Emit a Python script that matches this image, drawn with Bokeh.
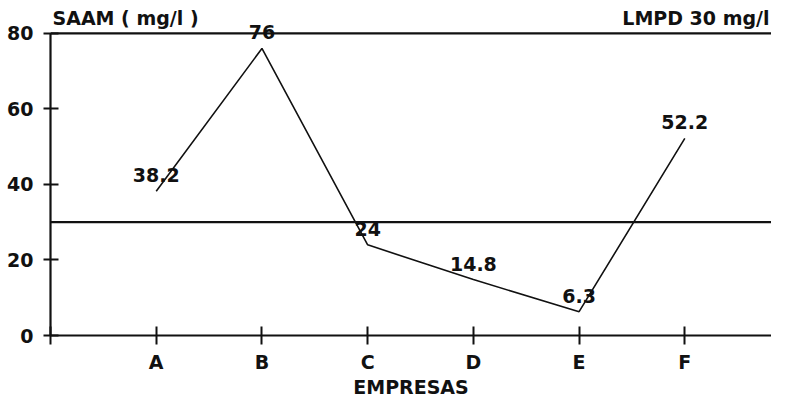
from bokeh.plotting import figure
from bokeh.models import Range1d, FixedTicker, Span, Label, ColumnDataSource
from bokeh.embed import file_html
from bokeh.resources import INLINE
from bokeh.core.properties import value

# ---- data ----
empresas = ["A", "B", "C", "D", "E", "F"]
posiciones = [1, 2, 3, 4, 5, 6]
saam = [38.2, 76, 24, 14.8, 6.3, 52.2]
etiquetas = ["38.2", "76", "24", "14.8", "6.3", "52.2"]
lmpd = 30
y_ticks = [0, 20, 40, 60, 80]
y_max = 80
titulo_y = "SAAM ( mg/l )"
titulo_lmpd = "LMPD 30 mg/l"
titulo_x = "EMPRESAS"

FONT = "DejaVu Sans"
INK = "#111111"
X_END = 6.82
Y_TOP = 88.7

p = figure(width=771, height=400, output_backend="svg", toolbar_location=None,
           x_range=Range1d(0, X_END), y_range=Range1d(0, Y_TOP),
           min_border=0, min_border_left=50, min_border_right=0,
           min_border_top=0, min_border_bottom=0)
p.outline_line_color = None
p.grid.visible = False
p.background_fill_color = "white"
p.border_fill_color = "white"

source = ColumnDataSource(dict(x=posiciones, y=saam, label=etiquetas))
p.line("x", "y", source=source, line_color=INK, line_width=1.6)
p.text("x", "y", text="label", source=source, text_font=value(FONT),
       text_font_style="bold", text_font_size="19px", text_align="center",
       text_baseline="middle", y_offset=-16, text_color=INK)

p.add_layout(Span(location=y_max, dimension="width", line_color=INK, line_width=2.2))
p.add_layout(Span(location=lmpd, dimension="width", line_color=INK, line_width=2.2))

p.add_layout(Label(x=0, y=y_max, x_offset=2, y_offset=15, text=titulo_y,
                   text_font=FONT, text_font_style="bold", text_font_size="19px",
                   text_baseline="middle", text_align="left", text_color=INK))
p.add_layout(Label(x=X_END, y=y_max, x_offset=-2, y_offset=15, text=titulo_lmpd,
                   text_font=FONT, text_font_style="bold", text_font_size="19px",
                   text_baseline="middle", text_align="right", text_color=INK))

xa = p.xaxis[0]
xa.ticker = FixedTicker(ticks=[0] + posiciones)
overrides = {0: ""}
overrides.update({pos: e for pos, e in zip(posiciones, empresas)})
xa.major_label_overrides = overrides
xa.axis_label = titulo_x
xa.axis_label_text_font = FONT
xa.axis_label_text_font_style = "bold"
xa.axis_label_text_font_size = "19px"
xa.axis_label_text_color = INK
xa.axis_label_standoff = 0
xa.major_label_text_font = FONT
xa.major_label_text_font_style = "bold"
xa.major_label_text_font_size = "19px"
xa.major_label_text_color = INK
xa.major_label_standoff = 6
xa.major_tick_in = 9
xa.major_tick_out = 9
xa.minor_tick_line_color = None
xa.axis_line_width = 2.2
xa.axis_line_color = INK
xa.major_tick_line_width = 2
xa.major_tick_line_color = INK

ya = p.yaxis[0]
ya.ticker = FixedTicker(ticks=y_ticks)
ya.bounds = (0, y_max)
ya.major_label_text_font = FONT
ya.major_label_text_font_style = "bold"
ya.major_label_text_font_size = "19px"
ya.major_label_text_color = INK
ya.major_label_standoff = 10
ya.major_tick_in = 8
ya.major_tick_out = 7
ya.minor_tick_line_color = None
ya.axis_line_width = 2.2
ya.axis_line_color = INK
ya.major_tick_line_width = 2
ya.major_tick_line_color = INK

open("out.html", "w").write(file_html(p, INLINE))
